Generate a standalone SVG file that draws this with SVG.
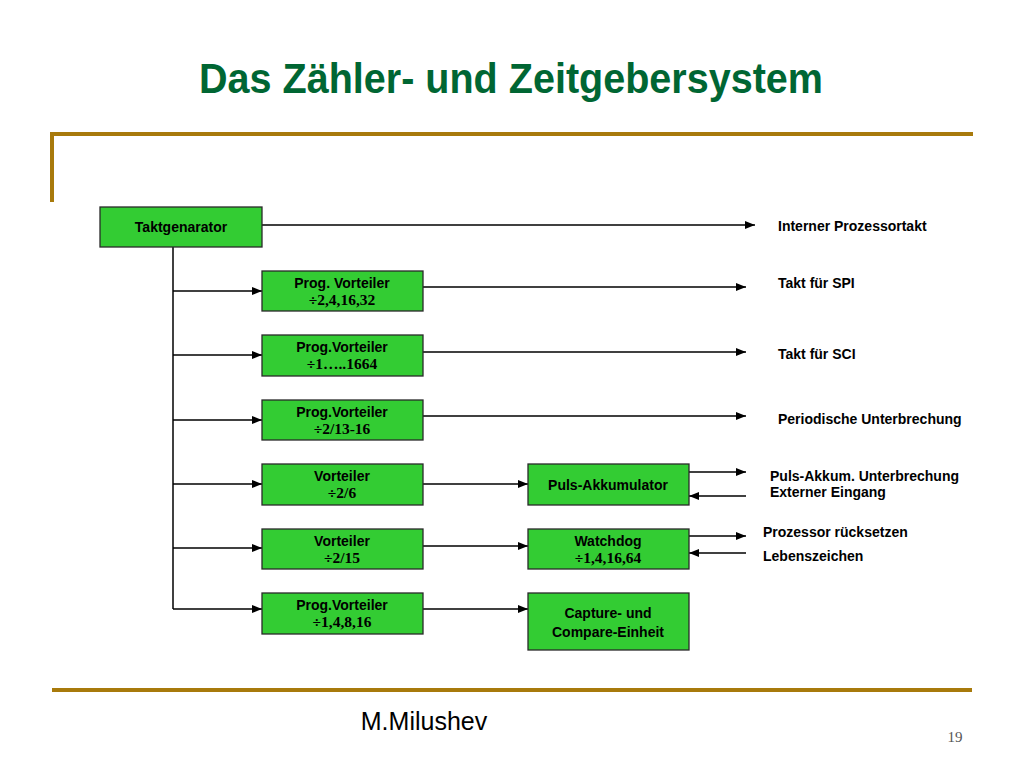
<svg xmlns="http://www.w3.org/2000/svg" width="1024" height="768" viewBox="0 0 1024 768">
<defs>
<marker id="ah" markerWidth="10" markerHeight="8" refX="10" refY="4" orient="auto" markerUnits="userSpaceOnUse">
<path d="M0,0 L10,4 L0,8 Z" fill="#000"/>
</marker>
<style>
.box{fill:#33CC33;stroke:#2a2a2a;stroke-width:1.3}
.t{font-family:"Liberation Sans",Arial,sans-serif;font-weight:bold;font-size:14px;fill:#000}
.n{font-family:"Liberation Serif","Times New Roman",serif;font-weight:bold;font-size:15.5px;fill:#000}
.c{stroke:#000;stroke-width:1.5;fill:none}
.a{stroke:#000;stroke-width:1.5;fill:none;marker-end:url(#ah)}
.gold{stroke:#A87A0C;stroke-width:4;fill:none}
</style>
</defs>
<rect width="1024" height="768" fill="#fff"/>
<text x="199" y="93" textLength="624" lengthAdjust="spacingAndGlyphs" font-family="Liberation Sans,Arial,sans-serif" font-weight="bold" font-size="42" fill="#006633">Das Zähler- und Zeitgebersystem</text>
<path class="gold" d="M52,202 V134 H973"/>
<path class="gold" d="M52,690 H972"/>

<g id="connectors">
<path class="c" d="M173,247 V609"/>
<path class="a" d="M262,225 H755"/>
<path class="a" d="M173,291 H262"/>
<path class="a" d="M173,355 H262"/>
<path class="a" d="M173,420 H262"/>
<path class="a" d="M173,484 H262"/>
<path class="a" d="M173,548 H262"/>
<path class="a" d="M173,609 H262"/>
<path class="a" d="M423,287 H746"/>
<path class="a" d="M423,352 H746"/>
<path class="a" d="M423,416 H746"/>
<path class="a" d="M423,484 H528"/>
<path class="a" d="M423,546 H528"/>
<path class="a" d="M423,609 H528"/>
<path class="a" d="M689,472 H746"/>
<path class="a" d="M746,496 H689"/>
<path class="a" d="M689,536 H746"/>
<path class="a" d="M746,553 H689"/>
</g>

<g id="taktgenarator">
<rect class="box" x="100" y="207" width="162" height="40"/>
<text class="t" x="181" y="232" text-anchor="middle">Taktgenarator</text>
</g>
<g id="vorteiler1">
<rect class="box" x="262" y="271" width="161" height="40"/>
<text class="t" x="342" y="288" text-anchor="middle">Prog. Vorteiler</text>
<text class="n" x="342" y="305" text-anchor="middle">÷2,4,16,32</text>
</g>
<g id="vorteiler2">
<rect class="box" x="262" y="335" width="161" height="41"/>
<text class="t" x="342" y="352" text-anchor="middle">Prog.Vorteiler</text>
<text class="n" x="342" y="369" text-anchor="middle">÷1…..1664</text>
</g>
<g id="vorteiler3">
<rect class="box" x="262" y="400" width="161" height="40"/>
<text class="t" x="342" y="417" text-anchor="middle">Prog.Vorteiler</text>
<text class="n" x="342" y="434" text-anchor="middle">÷2/13-16</text>
</g>
<g id="vorteiler4">
<rect class="box" x="262" y="464" width="161" height="41"/>
<text class="t" x="342" y="481" text-anchor="middle">Vorteiler</text>
<text class="n" x="342" y="498" text-anchor="middle">÷2/6</text>
</g>
<g id="vorteiler5">
<rect class="box" x="262" y="529" width="161" height="40"/>
<text class="t" x="342" y="546" text-anchor="middle">Vorteiler</text>
<text class="n" x="342" y="563" text-anchor="middle">÷2/15</text>
</g>
<g id="vorteiler6">
<rect class="box" x="262" y="593" width="161" height="41"/>
<text class="t" x="342" y="610" text-anchor="middle">Prog.Vorteiler</text>
<text class="n" x="342" y="627" text-anchor="middle">÷1,4,8,16</text>
</g>
<g id="pulsakku">
<rect class="box" x="528" y="464" width="161" height="41"/>
<text class="t" x="608" y="490" text-anchor="middle">Puls-Akkumulator</text>
</g>
<g id="watchdog">
<rect class="box" x="528" y="529" width="161" height="40"/>
<text class="t" x="608" y="546" text-anchor="middle">Watchdog</text>
<text class="n" x="608" y="563" text-anchor="middle">÷1,4,16,64</text>
</g>
<g id="capture">
<rect class="box" x="528" y="593" width="161" height="57"/>
<text class="t" x="608" y="618" text-anchor="middle">Capture- und</text>
<text class="t" x="608" y="637" text-anchor="middle">Compare-Einheit</text>
</g>

<g id="labels">
<text class="t" x="778" y="231">Interner Prozessortakt</text>
<text class="t" x="778" y="288">Takt für SPI</text>
<text class="t" x="778" y="359">Takt für SCI</text>
<text class="t" x="778" y="424">Periodische Unterbrechung</text>
<text class="t" x="770" y="481">Puls-Akkum. Unterbrechung</text>
<text class="t" x="770" y="497">Externer Eingang</text>
<text class="t" x="763" y="537">Prozessor rücksetzen</text>
<text class="t" x="763" y="561">Lebenszeichen</text>
</g>
<text x="424" y="730" text-anchor="middle" font-family="Liberation Sans,Arial,sans-serif" font-size="25" fill="#000">M.Milushev</text>
<text x="955" y="742" text-anchor="middle" font-family="Liberation Serif,Times New Roman,serif" font-size="15" fill="#555">19</text>
</svg>
